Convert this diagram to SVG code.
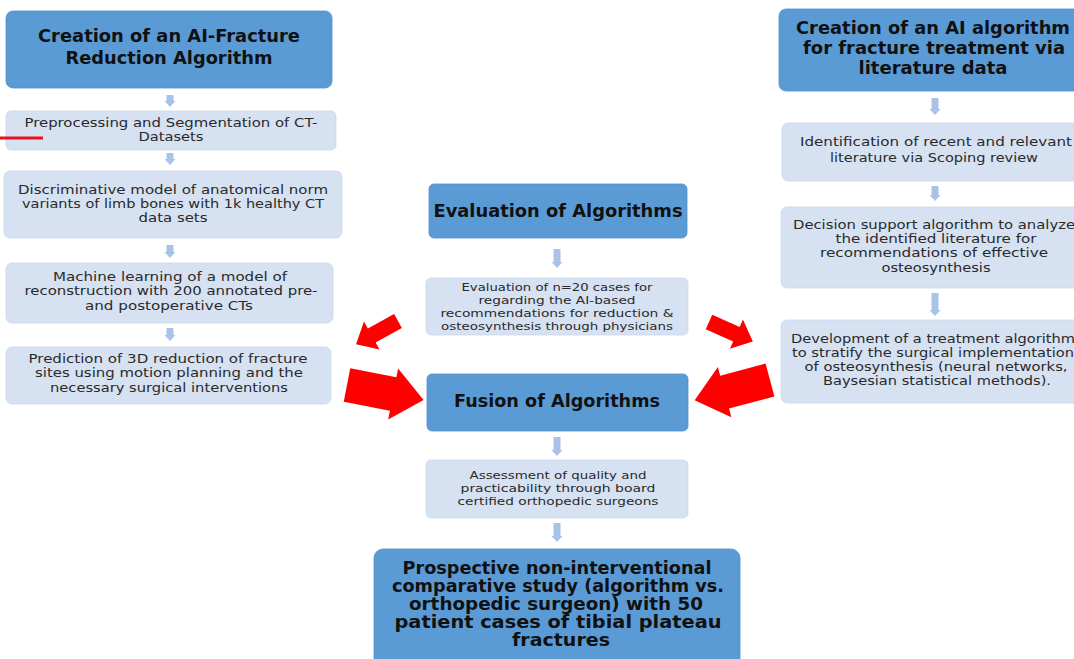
<svg xmlns="http://www.w3.org/2000/svg" width="1074" height="659" viewBox="0 0 1074 659">
<defs>
<style>
.hdr{fill:#5b9bd5;stroke:#4f8fcc;stroke-width:0.8}
.box{fill:#d6e1f2;stroke:#cbd8ee;stroke-width:0.8}
.ht{font-family:"DejaVu Sans",sans-serif;font-weight:bold;fill:#111;text-anchor:middle}
.bt{font-family:"DejaVu Sans",sans-serif;fill:#2a2a2a;text-anchor:middle}
.sa{fill:#a9c3e6}
.ra{fill:#ff0000}
</style>
</defs>
<rect width="1074" height="659" fill="#ffffff"/>

<g id="left-header"><rect class="hdr" x="6" y="11" width="326" height="77" rx="7"/>
<text class="ht" font-size="18" x="169" y="42" textLength="262" lengthAdjust="spacingAndGlyphs">Creation of an AI-Fracture</text>
<text class="ht" font-size="18" x="169" y="64" textLength="207" lengthAdjust="spacingAndGlyphs">Reduction Algorithm</text></g>

<g id="left-preprocessing"><rect class="box" x="6" y="111" width="330" height="39" rx="5"/>
<text class="bt" font-size="13" x="171" y="127" textLength="293" lengthAdjust="spacingAndGlyphs">Preprocessing and Segmentation of CT-</text>
<text class="bt" font-size="13" x="171" y="141" textLength="65" lengthAdjust="spacingAndGlyphs">Datasets</text></g>

<g id="left-discriminative"><rect class="box" x="4" y="171" width="338" height="67" rx="6"/>
<text class="bt" font-size="13" x="173" y="194" textLength="310" lengthAdjust="spacingAndGlyphs">Discriminative model of anatomical norm</text>
<text class="bt" font-size="13" x="173" y="208" textLength="302" lengthAdjust="spacingAndGlyphs">variants of limb bones with 1k healthy CT</text>
<text class="bt" font-size="13" x="173" y="222" textLength="69" lengthAdjust="spacingAndGlyphs">data sets</text></g>

<g id="left-ml"><rect class="box" x="6" y="263" width="327" height="60" rx="6"/>
<text class="bt" font-size="13" x="170" y="281" textLength="234" lengthAdjust="spacingAndGlyphs">Machine learning of a model of</text>
<text class="bt" font-size="13" x="171" y="295" textLength="293" lengthAdjust="spacingAndGlyphs">reconstruction with 200 annotated pre-</text>
<text class="bt" font-size="13" x="169" y="310" textLength="168" lengthAdjust="spacingAndGlyphs">and postoperative CTs</text></g>

<g id="left-prediction"><rect class="box" x="6" y="347" width="325" height="57" rx="6"/>
<text class="bt" font-size="13" x="168" y="363" textLength="279" lengthAdjust="spacingAndGlyphs">Prediction of 3D reduction of fracture</text>
<text class="bt" font-size="13" x="169" y="377" textLength="268" lengthAdjust="spacingAndGlyphs">sites using motion planning and the</text>
<text class="bt" font-size="13" x="169" y="392" textLength="238" lengthAdjust="spacingAndGlyphs">necessary surgical interventions</text></g>

<g id="center-evaluation-header"><rect class="hdr" x="429" y="184" width="258" height="54" rx="5"/>
<text class="ht" font-size="18" x="558" y="217" textLength="249" lengthAdjust="spacingAndGlyphs">Evaluation of Algorithms</text></g>

<g id="center-evaluation"><rect class="box" x="426" y="278" width="262" height="57" rx="5"/>
<text class="bt" font-size="11.3" x="557" y="291" textLength="191" lengthAdjust="spacingAndGlyphs">Evaluation of n=20 cases for</text>
<text class="bt" font-size="11.3" x="557" y="304" textLength="157" lengthAdjust="spacingAndGlyphs">regarding the AI-based</text>
<text class="bt" font-size="11.3" x="557" y="317" textLength="233" lengthAdjust="spacingAndGlyphs">recommendations for reduction &amp;</text>
<text class="bt" font-size="11.3" x="557" y="330" textLength="232" lengthAdjust="spacingAndGlyphs">osteosynthesis through physicians</text></g>

<g id="center-fusion"><rect class="hdr" x="427" y="374" width="261" height="57" rx="5"/>
<text class="ht" font-size="18" x="557" y="407" textLength="206" lengthAdjust="spacingAndGlyphs">Fusion of Algorithms</text></g>

<g id="center-assessment"><rect class="box" x="426" y="460" width="262" height="58" rx="5"/>
<text class="bt" font-size="11.3" x="558" y="479" textLength="177" lengthAdjust="spacingAndGlyphs">Assessment of quality and</text>
<text class="bt" font-size="11.3" x="558" y="492" textLength="195" lengthAdjust="spacingAndGlyphs">practicability through board</text>
<text class="bt" font-size="11.3" x="558" y="505" textLength="201" lengthAdjust="spacingAndGlyphs">certified orthopedic surgeons</text></g>

<g id="center-prospective"><rect class="hdr" x="374" y="549" width="366" height="118" rx="9"/>
<text class="ht" font-size="17.5" x="557" y="574" textLength="309" lengthAdjust="spacingAndGlyphs">Prospective non-interventional</text>
<text class="ht" font-size="17.5" x="558" y="592" textLength="332" lengthAdjust="spacingAndGlyphs">comparative study (algorithm vs.</text>
<text class="ht" font-size="17.5" x="556" y="610" textLength="294" lengthAdjust="spacingAndGlyphs">orthopedic surgeon) with 50</text>
<text class="ht" font-size="17.5" x="558" y="628" textLength="327" lengthAdjust="spacingAndGlyphs">patient cases of tibial plateau</text>
<text class="ht" font-size="17.5" x="561" y="646" textLength="98" lengthAdjust="spacingAndGlyphs">fractures</text></g>

<g id="right-header"><rect class="hdr" x="779" y="9" width="310" height="82" rx="7"/>
<text class="ht" font-size="18" x="933" y="34" textLength="274" lengthAdjust="spacingAndGlyphs">Creation of an AI algorithm</text>
<text class="ht" font-size="18" x="934" y="54" textLength="262" lengthAdjust="spacingAndGlyphs">for fracture treatment via</text>
<text class="ht" font-size="18" x="933" y="74" textLength="149" lengthAdjust="spacingAndGlyphs">literature data</text></g>

<g id="right-identification"><rect class="box" x="782" y="123" width="310" height="58" rx="6"/>
<text class="bt" font-size="13" x="936" y="146" textLength="272" lengthAdjust="spacingAndGlyphs">Identification of recent and relevant</text>
<text class="bt" font-size="13" x="934" y="162" textLength="208" lengthAdjust="spacingAndGlyphs">literature via Scoping review</text></g>

<g id="right-decision"><rect class="box" x="781" y="207" width="310" height="81" rx="6"/>
<text class="bt" font-size="12.5" x="934" y="229" textLength="282" lengthAdjust="spacingAndGlyphs">Decision support algorithm to analyze</text>
<text class="bt" font-size="12.5" x="936" y="243" textLength="201" lengthAdjust="spacingAndGlyphs">the identified literature for</text>
<text class="bt" font-size="12.5" x="934" y="257" textLength="228" lengthAdjust="spacingAndGlyphs">recommendations of effective</text>
<text class="bt" font-size="12.5" x="936" y="272" textLength="109" lengthAdjust="spacingAndGlyphs">osteosynthesis</text></g>

<g id="right-development"><rect class="box" x="781" y="320" width="310" height="83" rx="6"/>
<text class="bt" font-size="12.5" x="933" y="343" textLength="284" lengthAdjust="spacingAndGlyphs">Development of a treatment algorithm</text>
<text class="bt" font-size="12.5" x="933" y="357" textLength="282" lengthAdjust="spacingAndGlyphs">to stratify the surgical implementation</text>
<text class="bt" font-size="12.5" x="936" y="371" textLength="263" lengthAdjust="spacingAndGlyphs">of osteosynthesis (neural networks,</text>
<text class="bt" font-size="12.5" x="937" y="385" textLength="228" lengthAdjust="spacingAndGlyphs">Baysesian statistical methods).</text></g>

<g id="connectors">
<path class="sa" d="M166.5,95H173.5V101H175.5L170,107L164.5,101H166.5Z"/>
<path class="sa" d="M166.5,153H173.5V159H175.5L170,165L164.5,159H166.5Z"/>
<path class="sa" d="M166.5,245H173.5V252H175.5L170,258L164.5,252H166.5Z"/>
<path class="sa" d="M166.5,328H173.5V335H175.5L170,341L164.5,335H166.5Z"/>
<path class="sa" d="M553.5,249H560.5V262H562.5L557,268L551.5,262H553.5Z"/>
<path class="sa" d="M553.5,437H560.5V450H562.5L557,456L551.5,450H553.5Z"/>
<path class="sa" d="M553.5,523H560.5V536H562.5L557,542L551.5,536H553.5Z"/>
<path class="sa" d="M931.5,98H938.5V109H940.5L935,115L929.5,109H931.5Z"/>
<path class="sa" d="M931.5,186H938.5V195H940.5L935,201L929.5,195H931.5Z"/>
<path class="sa" d="M931.5,293H938.5V310H940.5L935,316L929.5,310H931.5Z"/>
<path class="ra" transform="translate(347,385) rotate(11)" d="M0,-17L47,-17L47,-26L78,0L47,26L47,17L0,17Z"/>
<path class="ra" transform="translate(770,380) rotate(165)" d="M0,-17L47,-17L47,-26L78,0L47,26L47,17L0,17Z"/>
<path class="ra" transform="translate(398,321) rotate(151)" d="M0,-8L30,-8L30,-16L48,0L30,16L30,8L0,8Z"/>
<path class="ra" transform="translate(709,322) rotate(24)" d="M0,-8L30,-8L30,-16L48,0L30,16L30,8L0,8Z"/>
</g>
<rect id="red-mark" x="0" y="136.5" width="43" height="3" fill="#e8141b"/>
</svg>
